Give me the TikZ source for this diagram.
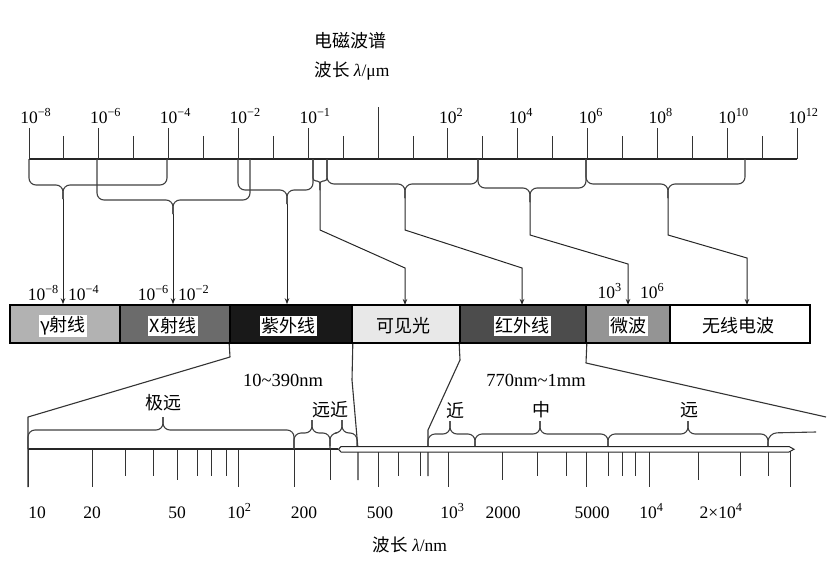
\documentclass[tikz,border=0pt]{standalone}
\usepackage{fontspec}
\setmainfont{Liberation Serif}
\newfontfamily\cjk{Noto Sans CJK SC}
\usetikzlibrary{arrows.meta}
\newcommand\dnbrace[5]{%
  \draw[bracel] (#1,159) -- (#1,#4) -- (#3,#4) -- (#3,#5);
  \draw[bracel] (#2,159) -- (#2,#4) -- (#3,#4) -- (#3,#5);}
\newcommand\upbrace[5]{%
  \draw[bracel] (#1,#4) -- (#1,#5) -- (#3,#5) -- (#3,#5-13);
  \draw[bracel] (#2,#4) -- (#2,#5) -- (#3,#5) -- (#3,#5-13);}
\begin{document}
\begin{tikzpicture}[x=1pt,y=-1pt,
  axisline/.style={line width=1.2pt, black!85},
  tickline/.style={line width=1pt, black!80},
  bracel/.style={line width=1.1pt, black!75, rounded corners=7pt},
  arr/.style={line width=1pt, black!85, -{Stealth[length=6pt,width=4.5pt]}},
  zl/.style={line width=1.1pt, black!80, line join=round},
  num/.style={font=\fontsize{17.5}{17.5}\selectfont, inner sep=0pt},
  rng/.style={font=\fontsize{18.5}{18.5}\selectfont, inner sep=0pt},
  cj/.style={font=\fontsize{18}{18}\selectfont\cjk, inner sep=0pt},
  seg/.style={draw=black, line width=1.6pt, minimum height=38pt, inner sep=0pt},
  lab/.style={fill=white, font=\fontsize{18}{18}\selectfont\cjk, inner sep=1.5pt},
]
\useasboundingbox (0,0) rectangle (837,581);

% titles
\node[cj] (title) at (350,41) {电磁波谱};
\node[num] (unit) at (352,71) {{\cjk 波长} \textit{λ}/μm};

% top axis
\draw[axisline] (29,159) -- (797,159);
\foreach \k in {0,...,22}{
  \pgfmathsetmacro{\xx}{29+34.909*\k}
  \ifodd\k
    \draw[tickline] (\xx,159) -- (\xx,136);
  \else
    \draw[tickline] (\xx,159) -- (\xx,128);
  \fi
}
\draw[tickline] (378,159) -- (378,107);
\foreach \k/\e in {0/−8,2/−6,4/−4,6/−2,8/−1,12/2,14/4,16/6,18/8,20/10,22/12}{
  \pgfmathsetmacro{\xx}{29+34.909*\k}
  \node[num, anchor=base] (t\k) at (\xx,123) {10\rlap{\textsuperscript{\e}}};
}

% upper braces
\dnbrace{29}{167}{63}{185}{199}
\dnbrace{97}{250}{173}{200}{214}
\dnbrace{238}{313}{287}{190}{204}
\begin{scope}[bracel/.append style={rounded corners=3pt}]
\dnbrace{313}{327}{320}{181}{190}
\end{scope}
\dnbrace{327}{478}{405}{184}{198}
\dnbrace{478}{586}{530}{188}{202}
\dnbrace{586}{745}{668}{184}{198}

% band segments
\node[seg, fill=black!30, minimum width=110pt] (gam) at (65,324) {};
\node[seg, fill=black!58, minimum width=110pt] (xr) at (175,324) {};
\node[seg, fill=black!90, minimum width=122pt] (uv) at (291,324) {};
\node[seg, fill=black!9, minimum width=108pt] (vis) at (406,324) {};
\node[seg, fill=black!70, minimum width=126pt] (ir) at (523,324) {};
\node[seg, fill=black!42, minimum width=84pt] (mw) at (628,324) {};
\node[seg, fill=white, minimum width=140pt] (rad) at (740,324) {};

\node[lab] (lg) at (63,326) {γ射线};
\node[lab] (lx) at (173,326) {X射线};
\node[lab] (luv) at (288,326) {紫外线};
\node[cj] (lvis) at (403,326) {可见光};
\node[lab] (lir) at (522,326) {红外线};
\node[lab] (lmw) at (628,326) {微波};
\node[cj] (lrad) at (738,326) {无线电波};

% tips and arrows
\coordinate (gtip) at (63,199);
\coordinate (xtip) at (173,214);
\coordinate (uvtip) at (287,204);
\coordinate (vtip) at (320,190);
\coordinate (itip) at (405,198);
\coordinate (mtip) at (530,202);
\coordinate (rtip) at (668,198);
\draw[arr] (gtip) -- (gtip |- gam.north);
\draw[arr] (xtip) -- (xtip |- xr.north);
\draw[arr] (uvtip) -- (uvtip |- uv.north);
\draw[arr] (vtip) -- (320,230) -- (405,268) -- (405,305);
\draw[arr] (itip) -- (405,230) -- (522,268) -- (522,305);
\draw[arr] (mtip) -- (530,235) -- (628,264) -- (628,305);
\draw[arr] (rtip) -- (668,235) -- (747,258) -- (747,305);

% arrow labels
\node[num, anchor=base east] (a1) at (59,300) {10\textsuperscript{−8}};
\node[num, anchor=base west] (a2) at (68,300) {10\textsuperscript{−4}};
\node[num, anchor=base east] (a3) at (169,300) {10\textsuperscript{−6}};
\node[num, anchor=base west] (a4) at (178,300) {10\textsuperscript{−2}};
\node[num, anchor=base east] (a5) at (622,298) {10\textsuperscript{3}};
\node[num, anchor=base west] (a6) at (640,298) {10\textsuperscript{6}};

% zoom lines
\draw[zl] (uv.south west) -- (230,357) -- (28,417) -- (28,487);
\draw[zl] (uv.south east) -- (352,380) -- (358,449) -- (358,480);
\draw[zl] (ir.south west) -- (460,360) -- (428,430) -- (428,476);
\draw[zl] (ir.south east) -- (586,363) -- (826,417);

\node[rng] (r1) at (283,380) {10\textasciitilde 390nm};
\node[rng] (r2) at (536,380) {770nm\textasciitilde 1mm};

% bottom axis ticks
\foreach \x in {28,92,238,294,378,448,586,649,790}{
  \draw[tickline] (\x,449) -- (\x,487);}
\foreach \x in {177,330,502,698}{
  \draw[tickline] (\x,449) -- (\x,480);}
\foreach \x in {125,153,197,211,226,398,420,537,566,608,622,635,740,768}{
  \draw[tickline] (\x,449) -- (\x,476);}
\draw[axisline] (28,449) -- (338,449);
\draw[line width=1pt, black!85, fill=white] (341,446.5) -- (789,446.5) -- (794,449.25) -- (789,452) -- (341,452) -- (338.5,449.25) -- cycle;

% lower braces
\upbrace{28}{294}{163}{449}{430}
\upbrace{294}{330}{312}{449}{433}
\upbrace{330}{357}{342}{446}{433}
\upbrace{428}{475}{450}{446}{434}
\upbrace{475}{608}{540}{446}{434}
\upbrace{608}{768}{688}{446}{434}
\draw[bracel, rounded corners=9pt] (768,446) -- (768,433) -- (816,432);

\node[cj] (b1) at (163,403) {极远};
\node[cj] (b2) at (330,410) {远近};
\node[cj] (b3) at (455,410) {近};
\node[cj] (b4) at (541,410) {中};
\node[cj] (b5) at (689,410) {远};

% bottom labels
\node[num, anchor=base] (n1) at (37,518) {10};
\node[num, anchor=base] (n2) at (92,518) {20};
\node[num, anchor=base] (n3) at (177,518) {50};
\node[num, anchor=base] (n4) at (236,518) {10\rlap{\textsuperscript{2}}};
\node[num, anchor=base] (n5) at (304,518) {200};
\node[num, anchor=base] (n6) at (380,518) {500};
\node[num, anchor=base] (n7) at (449,518) {10\rlap{\textsuperscript{3}}};
\node[num, anchor=base] (n8) at (503,518) {2000};
\node[num, anchor=base] (n9) at (592,518) {5000};
\node[num, anchor=base] (n10) at (648,518) {10\rlap{\textsuperscript{4}}};
\node[num, anchor=base] (n11) at (721,518) {2×10\textsuperscript{4}};
\node[num] (bunit) at (410,545) {{\cjk 波长} \textit{λ}/nm};
\end{tikzpicture}
\end{document}
